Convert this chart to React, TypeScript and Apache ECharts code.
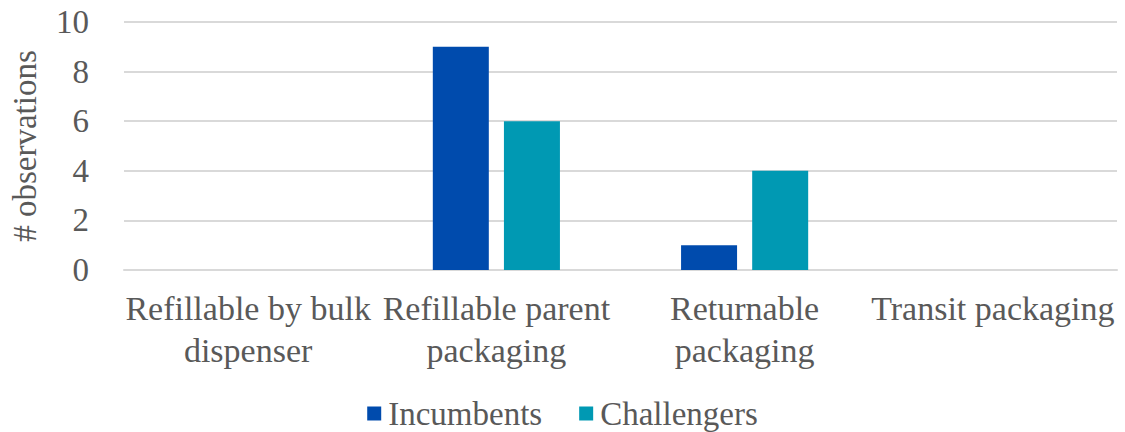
import React, { useEffect, useRef } from "react";
import * as echarts from "echarts";

const categories = [
  "Refillable by bulk\ndispenser",
  "Refillable parent\npackaging",
  "Returnable\npackaging",
  "Transit packaging",
];
const incumbents = [0, 9, 1, 0];
const challengers = [0, 6, 4, 0];
const seriesNames = ["Incumbents", "Challengers"];
const yTicks = { min: 0, max: 10, interval: 2 };

export default function App() {
  const ref = useRef<HTMLDivElement>(null);
  useEffect(() => {
    if (!ref.current) return;
    const chart = echarts.init(ref.current, undefined, { renderer: "svg" });
    const font = "Times New Roman, Liberation Serif, DejaVu Serif, serif";
    chart.setOption({
      animation: false,
      backgroundColor: "#ffffff",
      textStyle: { fontFamily: font },
      grid: { left: 115, right: 8, top: 22, bottom: 162, containLabel: false },
      legend: {
        data: seriesNames,
        top: 392,
        left: "center",
        icon: "rect",
        itemWidth: 14,
        itemHeight: 14,
        itemGap: 37,
        textStyle: { fontFamily: font, fontSize: 33, color: "#595959", padding: [0, 0, 0, 2] },
      },
      xAxis: {
        type: "category",
        data: categories,
        axisLine: { show: true, lineStyle: { color: "#d9d9d9", width: 2 } },
        axisTick: { show: false },
        axisLabel: {
          interval: 0,
          margin: 17,
          fontFamily: font,
          fontSize: 34,
          lineHeight: 42,
          color: "#595959",
        },
      },
      yAxis: {
        type: "value",
        min: yTicks.min,
        max: yTicks.max,
        interval: yTicks.interval,
        name: "# observations",
        nameLocation: "middle",
        nameGap: 83,
        nameTextStyle: { fontFamily: font, fontSize: 33, color: "#595959" },
        axisLine: { show: false },
        axisTick: { show: false },
        axisLabel: { margin: 35, fontFamily: font, fontSize: 33, color: "#595959" },
        splitLine: { lineStyle: { color: "#d9d9d9", width: 2 } },
      },
      series: [
        {
          name: seriesNames[0],
          type: "bar",
          data: incumbents,
          barWidth: 56,
          barGap: "27%",
          itemStyle: { color: "#004BAD" },
        },
        {
          name: seriesNames[1],
          type: "bar",
          data: challengers,
          barWidth: 56,
          barGap: "27%",
          itemStyle: { color: "#0099B3" },
        },
      ],
    });
    return () => chart.dispose();
  }, []);
  return (
    <div
      ref={ref}
      style={{ position: "fixed", left: 0, top: 0, width: 1125, height: 432 }}
    />
  );
}
